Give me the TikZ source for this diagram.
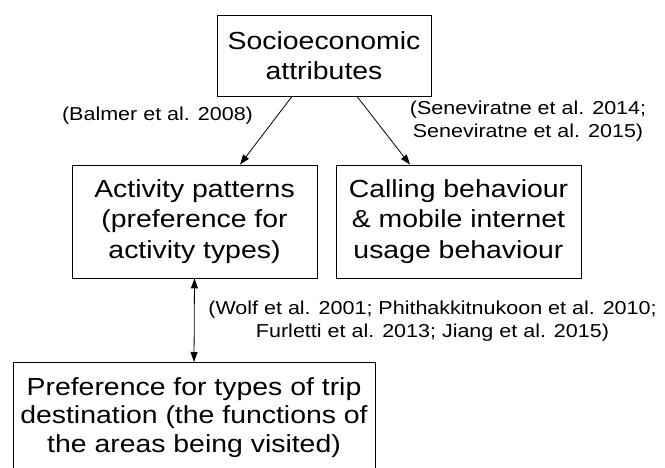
\documentclass[tikz,border=0pt]{standalone}
\usepackage{fontspec}
\setmainfont{Liberation Sans}[FakeStretch=1.15]
\usetikzlibrary{arrows.meta}
\begin{document}
\begin{tikzpicture}[x=1pt,y=-1pt,
  box/.style={draw, line width=0.8pt, inner sep=0pt, align=center,
    font=\fontsize{24.7}{30.5}\selectfont},
  frame/.style={draw, line width=0.8pt, inner sep=0pt},
  btxt/.style={inner sep=0pt, align=center, font=\fontsize{24.7}{28.5}\selectfont},
  lbl/.style={inner sep=0pt, align=center, font=\fontsize{18.7}{23}\selectfont},
  conn/.style={line width=0.8pt, -{Triangle[length=10pt,width=7pt]}},
  dconn/.style={line width=0.8pt, {Triangle[length=10pt,width=7pt]}-{Triangle[length=10pt,width=7pt]}}]
\useasboundingbox (0,0) rectangle (665,468);
\clip (0,0) rectangle (665,468);
\node[box, minimum width=214pt, minimum height=81pt] (top) at (324,55.5) {Socioeconomic\\attributes};
\node[box, minimum width=245pt, minimum height=113pt] (act) at (194.5,221.5) {Activity patterns\\(preference for\\activity types)};
\node[box, minimum width=245pt, minimum height=113pt] (call) at (458.5,221.5) {Calling behaviour\\\& mobile internet\\usage behaviour};
\node[frame, minimum width=362pt, minimum height=130pt, anchor=north] (bot) at (194,362) {};
\node[btxt, anchor=north] (bottxt) at ([yshift=-15pt]bot.north) {Preference for types of trip\\destination (the functions of\\the areas being visited)};
\draw[conn] ([xshift=-32pt]top.south) -- ([xshift=45.5pt]act.north);
\draw[conn] ([xshift=33pt]top.south) -- ([xshift=-48.5pt]call.north);
\draw[dconn] (act.south) -- (bot.north);
\node[lbl] (lb1) at (157.5,116) {(Balmer et al. 2008)};
\node[lbl] (lb2) at (528,121) {(Seneviratne et al. 2014;\\Seneviratne et al. 2015)};
\node[lbl] (lb3) at (432.5,321) {(Wolf et al. 2001; Phithakkitnukoon et al. 2010;\\Furletti et al. 2013; Jiang et al. 2015)};
\end{tikzpicture}
\end{document}
